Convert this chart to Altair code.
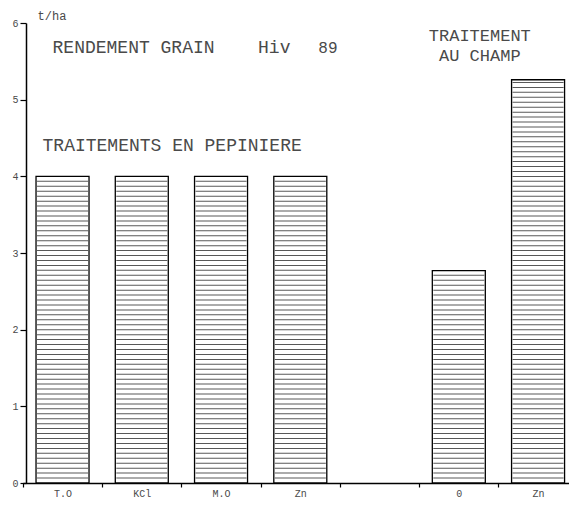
import altair as alt
import pandas as pd
import numpy as np

# ---- data ----
categories = ["T.O", "KCl", "M.O", "Zn1", "gap", "0", "Zn2"]
bar_categories = ["T.O", "KCl", "M.O", "Zn1", "0", "Zn2"]
bar_values = [4.0, 4.0, 4.0, 4.0, 2.77, 5.26]
y_ticks = [0, 1, 2, 3, 4, 5, 6]

ann_text = ["t/ha", "RENDEMENT GRAIN", "Hiv", "89", "TRAITEMENT", "AU CHAMP",
            "TRAITEMENTS EN PEPINIERE"]
ann_cat = ["T.O", "T.O", "M.O", "Zn1", "0", "0", "T.O"]
ann_y = [6.09, 5.68, 5.68, 5.68, 5.83, 5.57, 4.40]

# ---- styles ----
ann_dx = [-25, -10, 37, 18, 21, 21, -20]
ann_align = ["left", "left", "left", "left", "center", "center", "left"]
ann_size = [12, 18, 18, 16, 17, 17, 18]
HATCH_STEP = 0.0645
FONT = "Liberation Mono"
INK = "#4a4a4a"

bars = pd.DataFrame({"cat": bar_categories, "val": bar_values})

hatch_rows = []
for c, v in zip(bar_categories, bar_values):
    for lv in np.arange(HATCH_STEP, v - HATCH_STEP / 3, HATCH_STEP):
        hatch_rows.append({"cat": c, "lv": float(lv)})
hatch = pd.DataFrame(hatch_rows)

ann = pd.DataFrame({"text": ann_text, "cat": ann_cat, "y": ann_y})

xscale = alt.Scale(domain=categories, range=[-3.1, 551.7], paddingInner=0, paddingOuter=0)
yscale = alt.Scale(domain=[0, 6], nice=False, zero=True)

label_expr = ("datum.value == 'Zn1' || datum.value == 'Zn2' ? 'Zn' : "
              "(datum.value == 'gap' ? '' : datum.value)")

xaxis = alt.Axis(title=None, labelExpr=label_expr, tickBand="extent", tickSize=4,
                 labelAngle=0, labelFont=FONT, labelFontSize=10, labelColor=INK,
                 labelPadding=1, domain=True, domainColor="black", domainWidth=1.5,
                 tickColor="black", tickWidth=1.2, grid=False)
yaxis = alt.Axis(title=None, values=y_ticks, format="d", tickSize=6, labelFont=FONT,
                 labelFontSize=10, labelColor=INK, labelPadding=2, grid=False,
                 domain=True, domainColor="black", domainWidth=1.5, tickColor="black",
                 tickWidth=1.2)

bar_layer = alt.Chart(bars).mark_bar(
    size=53, fill="white", stroke="black", strokeWidth=1.3
).encode(
    x=alt.X("cat:N", scale=xscale, axis=xaxis, sort=categories),
    y=alt.Y("val:Q", scale=yscale, axis=yaxis),
)

hatch_layer = alt.Chart(hatch).mark_tick(
    size=51, thickness=1, color="#111111"
).encode(
    x=alt.X("cat:N", scale=xscale, sort=categories, axis=xaxis),
    y=alt.Y("lv:Q", scale=yscale, axis=yaxis),
)

text_layers = []
for i in range(len(ann_text)):
    sub = ann.iloc[[i]]
    text_layers.append(
        alt.Chart(sub).mark_text(
            font=FONT, fontSize=ann_size[i], color=INK, align=ann_align[i],
            baseline="middle", dx=ann_dx[i]
        ).encode(
            x=alt.X("cat:N", scale=xscale, sort=categories, axis=xaxis),
            y=alt.Y("y:Q", scale=yscale, axis=yaxis),
            text="text:N",
        )
    )

chart = alt.layer(bar_layer, hatch_layer, *text_layers).properties(
    width=543, height=460,
    background="white",
    padding={"left": 18, "top": 15, "right": 0, "bottom": 15},
    autosize=alt.AutoSizeParams(type="none"),
).configure_view(stroke=None)

chart.save("out.html", embed_options={"renderer": "svg", "actions": False})
